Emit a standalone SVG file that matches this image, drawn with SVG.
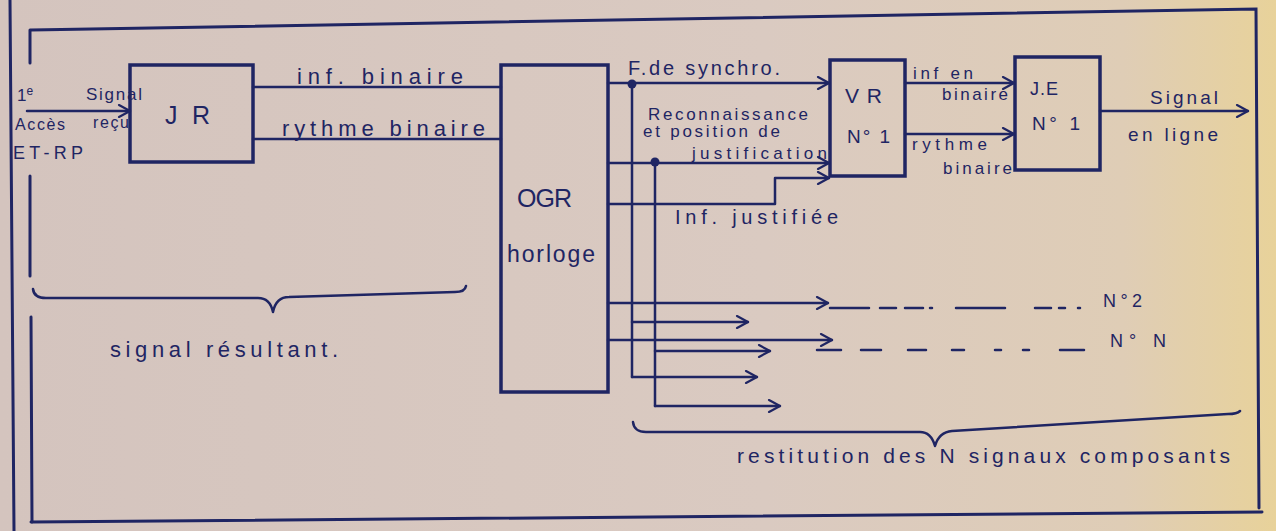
<svg xmlns="http://www.w3.org/2000/svg" width="1276" height="531" viewBox="0 0 1276 531">
<defs>
<linearGradient id="bg" x1="0" y1="0" x2="1" y2="0">
<stop offset="0" stop-color="#d4c4be"/>
<stop offset="0.6" stop-color="#dacac1"/>
<stop offset="0.88" stop-color="#dfcdb6"/>
<stop offset="1" stop-color="#e8d29a"/>
</linearGradient>
<marker id="arr" viewBox="0 0 14 14" refX="13" refY="7" markerWidth="14" markerHeight="14" markerUnits="userSpaceOnUse" orient="auto">
<path d="M2,1 L13,7 L2,13" fill="none" stroke="#1f2563" stroke-width="2.2" stroke-linecap="round" stroke-linejoin="round"/>
</marker>
<style>
.ln{stroke:#1f2563;stroke-width:2.5;fill:none;stroke-linecap:round;stroke-linejoin:round}
.ar{marker-end:url(#arr)}
.box{stroke:#1f2563;stroke-width:3.5;fill:none}
.fr{stroke:#1f2563;stroke-width:3;fill:none;stroke-linecap:round}
.t{font-family:"Liberation Sans",Arial,sans-serif;fill:#1f2563}
.dot{fill:#1f2563}
</style>
</defs>
<rect x="0" y="0" width="1276" height="531" fill="url(#bg)"/>

<g id="frame">
<line class="fr" x1="10" y1="0" x2="14" y2="531" stroke-width="2.5"/>
<polyline class="fr" points="31,30 1256,9 1259,508"/>
<line class="fr" x1="31" y1="522" x2="1262" y2="512"/>
<line class="fr" x1="30" y1="30" x2="30" y2="63"/>
<line class="fr" x1="30" y1="176" x2="30" y2="276"/>
<line class="fr" x1="31" y1="317" x2="32" y2="522"/>
</g>

<g id="input-label">
<text class="t" x="17" y="101" font-size="17">1<tspan font-size="12" dy="-6">e</tspan></text>
<text class="t" x="15" y="130" font-size="16" textLength="50">Accès</text>
<text class="t" x="13" y="159" font-size="18" textLength="70">ET-RP</text>
<text class="t" x="86" y="100" font-size="17" textLength="56">Signal</text>
<text class="t" x="93" y="128" font-size="16" textLength="36">reçu</text>
</g>

<g id="node-JR">
<rect class="box" x="130" y="65" width="123" height="97"/>
<text class="t" x="165" y="124" font-size="25" textLength="45">JR</text>
</g>

<g id="node-OGR">
<rect class="box" x="501" y="65" width="107" height="327"/>
<text class="t" x="517" y="207" font-size="25" textLength="55">OGR</text>
<text class="t" x="507" y="262" font-size="23" textLength="88">horloge</text>
</g>

<g id="node-VR">
<rect class="box" x="830" y="60" width="75" height="116"/>
<text class="t" x="845" y="103" font-size="21" textLength="37">VR</text>
<text class="t" x="847" y="143" font-size="19" textLength="43">N° 1</text>
</g>

<g id="node-JE">
<rect class="box" x="1015" y="57" width="85" height="113"/>
<text class="t" x="1030" y="95" font-size="18" textLength="28">J.E</text>
<text class="t" x="1032" y="130" font-size="19" textLength="48">N° 1</text>
</g>

<g id="connectors">
<line class="ln ar" x1="27" y1="111" x2="130" y2="111"/>
<line class="ln" x1="253" y1="87" x2="501" y2="87"/>
<line class="ln" x1="253" y1="139" x2="501" y2="139"/>
<line class="ln ar" x1="608" y1="83" x2="829" y2="83"/>
<line class="ln ar" x1="608" y1="163" x2="829" y2="163"/>
<polyline class="ln ar" points="608,204 775,204 775,178 829,178"/>
<line class="ln ar" x1="905" y1="83" x2="1014" y2="83"/>
<line class="ln ar" x1="905" y1="134" x2="1014" y2="134"/>
<line class="ln ar" x1="1100" y1="111" x2="1248" y2="111"/>
<line class="ln" x1="632" y1="84" x2="632" y2="377"/>
<line class="ln" x1="655" y1="162" x2="655" y2="406"/>
<circle class="dot" cx="632" cy="84" r="4.5"/>
<circle class="dot" cx="655" cy="162" r="4.5"/>
<line class="ln ar" x1="608" y1="303" x2="828" y2="303"/>
<line class="ln ar" x1="632" y1="322" x2="748" y2="322"/>
<line class="ln ar" x1="608" y1="340" x2="832" y2="340"/>
<line class="ln ar" x1="655" y1="351" x2="770" y2="351"/>
<line class="ln ar" x1="632" y1="377" x2="757" y2="377"/>
<line class="ln ar" x1="655" y1="406" x2="780" y2="406"/>
<path class="ln" d="M830,308 H869 M880,308 H896 M905,308 H923 M930,308 H932 M956,308 H1005 M1035,308 H1051 M1059,308 H1065 M1078,308 H1080"/>
<path class="ln" d="M817,350 H841 M861,350 H881 M908,350 H926 M952,350 H964 M995,350 H1001 M1023,350 H1029 M1060,350 H1084"/>
</g>

<g id="labels">
<text class="t" x="297" y="84" font-size="22" textLength="166">inf. binaire</text>
<text class="t" x="282" y="136" font-size="22" textLength="203">rythme binaire</text>
<text class="t" x="628" y="75" font-size="20" textLength="152">F.de synchro.</text>
<text class="t" x="648" y="120" font-size="17" textLength="160">Reconnaissance</text>
<text class="t" x="643" y="137" font-size="17" textLength="137">et position de</text>
<text class="t" x="692" y="159" font-size="17" textLength="135">justification</text>
<text class="t" x="675" y="224" font-size="20" textLength="163">Inf. justifiée</text>
<text class="t" x="913" y="79" font-size="17" textLength="60">inf en</text>
<text class="t" x="942" y="100" font-size="17" textLength="66">binaire</text>
<text class="t" x="912" y="150" font-size="17" textLength="75">rythme</text>
<text class="t" x="943" y="174" font-size="17" textLength="69">binaire</text>
<text class="t" x="1150" y="104" font-size="19" textLength="68">Signal</text>
<text class="t" x="1128" y="141" font-size="19" textLength="90">en ligne</text>
<text class="t" x="1103" y="307" font-size="18" textLength="39">N°2</text>
<text class="t" x="1110" y="347" font-size="18" textLength="56">N° N</text>
</g>

<g id="brace-signal-resultant">
<path class="ln" d="M33,289 Q34,298 46,298 L258,298 Q270,298 273,312 Q276,297 289,297 L455,292 Q465,292 466,286"/>
<text class="t" x="110" y="357" font-size="22" textLength="228">signal résultant.</text>
</g>

<g id="brace-restitution">
<path class="ln" d="M633,422 Q634,432 646,432 L920,432 Q931,432 935,446 Q939,432 952,431 L1228,414 Q1237,414 1240,411"/>
<text class="t" x="737" y="463" font-size="21" textLength="493">restitution des N signaux composants</text>
</g>
</svg>
